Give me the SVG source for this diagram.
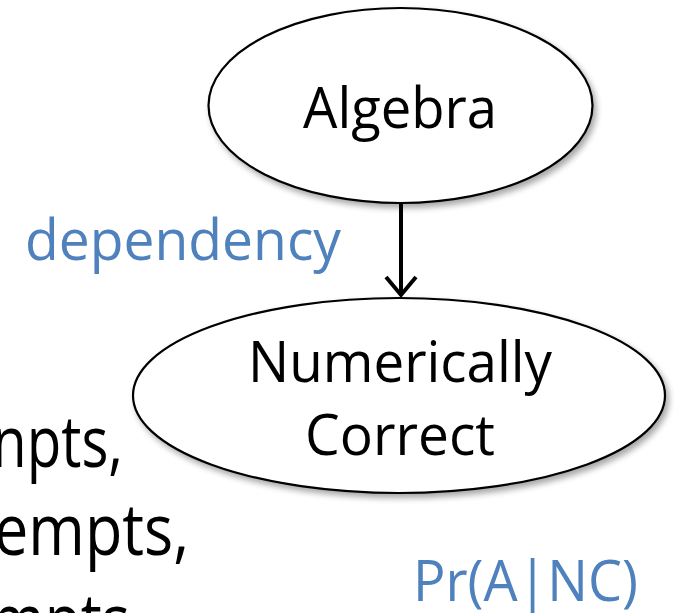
<svg xmlns="http://www.w3.org/2000/svg" width="674" height="613" viewBox="0 0 674 613">
<defs>
<filter id="shadow" x="-10%" y="-10%" width="125%" height="130%">
<feGaussianBlur in="SourceAlpha" stdDeviation="3"/>
<feOffset dx="3" dy="4" result="b"/>
<feComponentTransfer><feFuncA type="linear" slope="0.35"/></feComponentTransfer>
<feMerge><feMergeNode/><feMergeNode in="SourceGraphic"/></feMerge>
</filter>
</defs>
<style>
.node{fill:#ffffff;stroke:#000000;stroke-width:2.2}
.lbl{font-family:"Open Sans","Liberation Sans",sans-serif;font-size:56px;fill:#000000;text-anchor:middle}
.blue{font-family:"Open Sans","Liberation Sans",sans-serif;font-size:56px;fill:#4F81BD}
.big{font-family:"Open Sans","Liberation Sans",sans-serif;font-size:72px;fill:#000000}
.edge{stroke:#000000;stroke-width:4;fill:none}
</style>
<rect width="674" height="613" fill="#ffffff"/>
<g id="left-text">
<text class="big" x="-8" y="467" textLength="131" lengthAdjust="spacingAndGlyphs">npts,</text>
<text class="big" x="-6" y="555" textLength="195" lengthAdjust="spacingAndGlyphs">empts,</text>
<text class="big" x="-10" y="645" textLength="140" lengthAdjust="spacingAndGlyphs">mpts</text>
</g>
<g id="connectors">
<line class="edge" x1="401" y1="204" x2="401" y2="292"/>
<polyline class="edge" points="386,277 401,295 416,277" stroke-linejoin="miter"/>
</g>
<g id="algebra">
<ellipse class="node" cx="400.5" cy="105.5" rx="192" ry="97.5" filter="url(#shadow)"/>
<text class="lbl" x="400" y="128" textLength="194" lengthAdjust="spacingAndGlyphs">Algebra</text>
</g>
<g id="numerically-correct">
<ellipse class="node" cx="399" cy="395.5" rx="266" ry="97.5" filter="url(#shadow)"/>
<text class="lbl" x="400" y="382" textLength="304" lengthAdjust="spacingAndGlyphs">Numerically</text>
<text class="lbl" x="400" y="455" textLength="190" lengthAdjust="spacingAndGlyphs">Correct</text>
</g>
<g id="labels">
<text class="blue" x="25" y="260" textLength="316" lengthAdjust="spacingAndGlyphs">dependency</text>
<text class="blue" x="413" y="601" textLength="225" lengthAdjust="spacingAndGlyphs">Pr(A|NC)</text>
</g>
</svg>
